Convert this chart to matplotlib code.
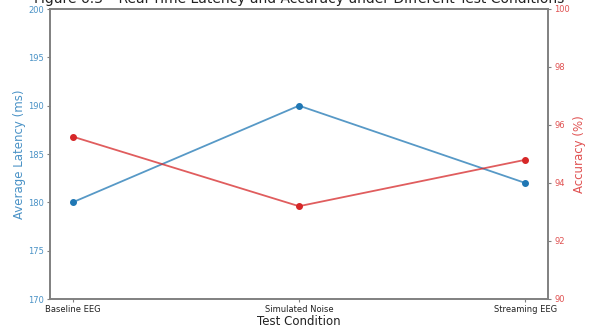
import matplotlib
matplotlib.use("Agg")
import matplotlib.pyplot as plt

conditions = ["Baseline EEG", "Simulated Noise", "Streaming EEG"]
latency_ms = [180, 190, 182]
accuracy_pct = [95.6, 93.2, 94.8]

BLUE = "#1f77b4"
RED = "#d62728"
BLUE_TXT = "#4a92c6"
RED_TXT = "#e05252"

fig = plt.figure(figsize=(5.92, 3.27), dpi=100)
ax = fig.add_axes([50 / 592, 28 / 327, 498 / 592, 290 / 327])

x = range(len(conditions))
ax.plot(x, latency_ms, color=BLUE, alpha=0.75, lw=1.3)
ax.plot(x, latency_ms, "o", color=BLUE, ms=4)
ax.set_ylim(170, 200)
ax.set_xticks(list(x))
ax.set_xticklabels(conditions)
ax.set_ylabel("Average Latency (ms)", color=BLUE_TXT, fontsize=8.5, labelpad=1)
ax.tick_params(axis="y", labelcolor=BLUE_TXT, labelsize=6, color="gray", length=2.5, pad=2)
ax.set_xlabel("Test Condition", fontsize=8.5, labelpad=1, color="#222222")
ax.tick_params(axis="x", labelsize=6, color="gray", labelcolor="#222222", length=2.5, pad=1.5)

ax2 = ax.twinx()
ax2.plot(x, accuracy_pct, color=RED, alpha=0.75, lw=1.3)
ax2.plot(x, accuracy_pct, "o", color=RED, ms=4)
ax2.set_ylim(90, 100)
ax2.set_ylabel("Accuracy (%)", color=RED_TXT, fontsize=8.5, labelpad=2)
ax2.tick_params(axis="y", labelcolor=RED_TXT, labelsize=6, color="gray", length=2.5, pad=2)

for a in (ax, ax2):
    for s in a.spines.values():
        s.set_color("gray")
        s.set_linewidth(1.2)

# title sits partly above the canvas, as in the reference crop
ax.set_title("Figure 6.3 – Real-Time Latency and Accuracy under Different Test Conditions",
             fontsize=10, pad=4, color="#222222")

fig.savefig("out.png", dpi=100)
